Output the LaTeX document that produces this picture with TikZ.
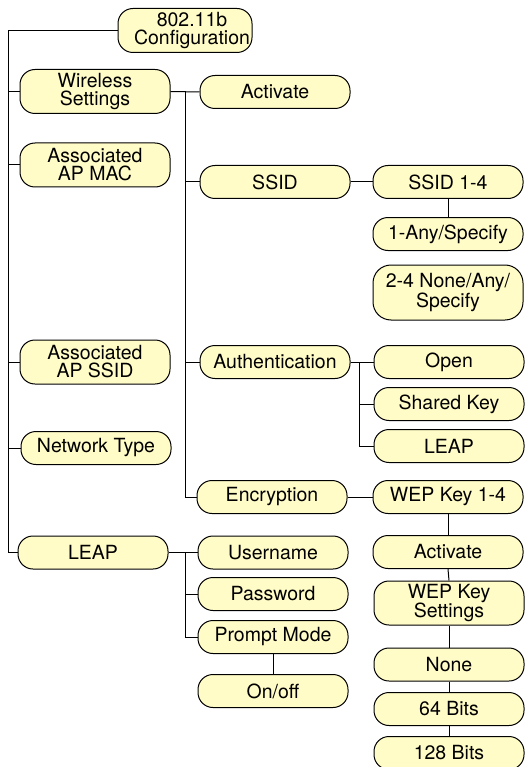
\documentclass[tikz,border=0pt]{standalone}
\usepackage{fontspec}
\setmainfont{TeX Gyre Heros}
\usepackage{tikz}
\usetikzlibrary{positioning, calc}
\definecolor{boxfill}{RGB}{255,252,200}

\begin{document}
\begin{tikzpicture}[
    x=1pt, y=-1pt,
    box/.style={draw, fill=boxfill, line width=1pt, rounded corners=15pt, minimum width=150pt, minimum height=33pt, inner sep=0pt, align=center, font=\fontsize{19.5}{18}\selectfont},
    tall/.style={minimum height=44pt},
    ln/.style={line width=1pt}
  ]
    \useasboundingbox (0,0) rectangle (525,767);
    % root and first level
    \node[box,tall,minimum width=134pt] (root) at (185,30.5) {\hspace*{14pt}802.11b\\\hspace*{14pt}Configuration};
    \node[box,tall] (wireless) at (95,91.5) {Wireless\\Settings};
    \node[box,tall] (apmac) at (95,165) {Associated\\AP MAC};
    \node[box,tall] (apssid) at (95,362) {Associated\\AP SSID};
    \node[box] (nettype) at (96,448) {Network Type};
    \node[box] (leap) at (93,552.5) {LEAP};
    % second level
    \node[box] (activate) at (275,92) {Activate};
    \node[box] (ssid) at (275,182) {SSID};
    \node[box] (auth) at (275,362) {Authentication};
    \node[box] (encr) at (272,497) {Encryption};
    \node[box] (user) at (273,552.5) {Username};
    \node[box] (pass) at (273,594) {Password};
    \node[box] (prompt) at (273,637) {Prompt Mode};
    \node[box] (onoff) at (273,691) {On/off};
    % third level
    \node[box] (ssidnum) at (448,182) {SSID 1-4};
    \node[box] (anyspec) at (448,234) {1-Any/Specify};
    \node[box,minimum height=55pt,rounded corners=18pt] (nonespec) at (448,292.5) {2-4 None/Any/\\Specify};
    \node[box] (open) at (449,362) {Open};
    \node[box] (shared) at (449,404) {Shared Key};
    \node[box] (leapauth) at (449,446) {LEAP};
    \node[box] (wepkey) at (448,497) {WEP Key 1-4};
    \node[box] (wepact) at (448,552) {Activate};
    \node[box,tall] (wepset) at (449,603) {WEP Key\\Settings};
    \node[box] (none) at (449,664.5) {None};
    \node[box] (b64) at (449,709) {64 Bits};
    \node[box] (b128) at (449,753) {128 Bits};

    \coordinate (lt) at (8,0);
    \coordinate (mt) at (185,0);
    \coordinate (at) at (359,0);

    \draw[ln] (root.west) -| (lt |- leap) -- (leap.west);
    \foreach \n in {wireless,apmac,apssid,nettype}
      \draw[ln] (lt |- \n) -- (\n.west);

    \draw[ln] (wireless.east) -- (activate.west);
    \draw[ln] (mt |- wireless) -- (mt |- encr) -- (encr.west);
    \foreach \n in {ssid,auth}
      \draw[ln] (mt |- \n) -- (\n.west);

    \draw[ln] (ssid.east) -- (ssidnum.west);
    \draw[ln] (ssidnum.south) -- (anyspec.north);

    \draw[ln] (auth.east) -- (open.west);
    \draw[ln] (at |- auth) -- (at |- leapauth) -- (leapauth.west);
    \draw[ln] (at |- shared) -- (shared.west);

    \draw[ln] (encr.east) -- (wepkey.west);
    \draw[ln] (wepkey.south) -- (wepact.north);
    \draw[ln] (wepact.south) -- (wepset.north);
    \draw[ln] (wepset.south) -- (none.north);
    \draw[ln] (none.south) -- (b64.north);
    \draw[ln] (b64.south) -- (b128.north);

    \draw[ln] (leap.east) -- (user.west);
    \draw[ln] (mt |- leap) -- (mt |- prompt) -- (prompt.west);
    \draw[ln] (mt |- pass) -- (pass.west);
    \draw[ln] (prompt.south) -- (onoff.north);
  \end{tikzpicture}
\end{document}
